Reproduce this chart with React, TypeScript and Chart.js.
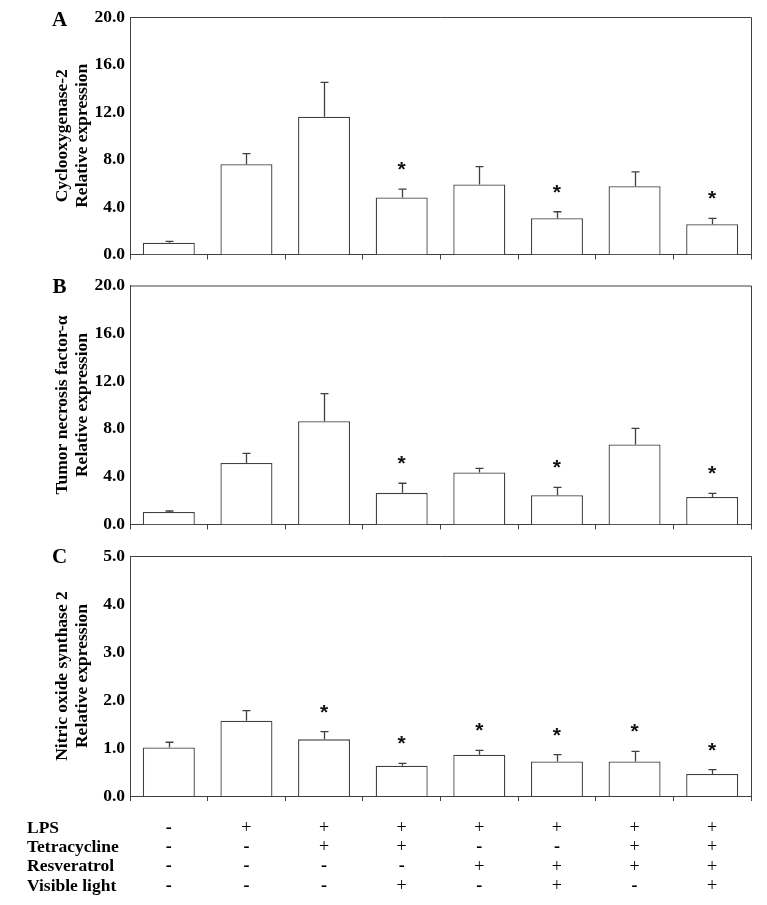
import React, { useEffect, useRef } from 'react';
import { Chart, registerables } from 'chart.js';

Chart.register(...registerables);

// ---------------- data ----------------
const groups = ['G1', 'G2', 'G3', 'G4', 'G5', 'G6', 'G7', 'G8'];

const coxValues = [1.0, 7.6, 11.6, 4.8, 5.9, 3.05, 5.75, 2.55];
const coxErrors = [0.1, 0.9, 2.9, 0.7, 1.5, 0.55, 1.2, 0.5];
const coxStars = [false, false, false, true, false, true, false, true];

const tnfValues = [1.05, 5.15, 8.65, 2.65, 4.35, 2.45, 6.7, 2.3];
const tnfErrors = [0.08, 0.8, 2.3, 0.8, 0.35, 0.65, 1.35, 0.3];
const tnfStars = [false, false, false, true, false, true, false, true];

const nosValues = [1.01, 1.57, 1.18, 0.63, 0.86, 0.72, 0.72, 0.46];
const nosErrors = [0.11, 0.21, 0.16, 0.05, 0.09, 0.14, 0.21, 0.09];
const nosStars = [false, false, true, true, true, true, true, true];

const coxTitle = ['Cyclooxygenase-2', 'Relative expression'];
const tnfTitle = ['Tumor necrosis factor-α', 'Relative expression'];
const nosTitle = ['Nitric oxide synthase 2', 'Relative expression'];

const treatmentLabels = ['LPS', 'Tetracycline', 'Resveratrol', 'Visible light'];
const lpsSigns = ['-', '+', '+', '+', '+', '+', '+', '+'];
const tetracyclineSigns = ['-', '-', '+', '+', '-', '-', '+', '+'];
const resveratrolSigns = ['-', '-', '-', '-', '+', '+', '+', '+'];
const lightSigns = ['-', '-', '-', '+', '-', '+', '-', '+'];
const treatmentSigns = [lpsSigns, tetracyclineSigns, resveratrolSigns, lightSigns];

// ---------------- styles ----------------
const SERIF = '"Liberation Serif", "Times New Roman", serif';
const LINE = '#404040';

type PanelProps = {
  top: number;
  height: number;
  padTop: number;
  padBottom: number;
  letter: string;
  letterY: number;
  values: number[];
  errors: number[];
  stars: boolean[];
  yMax: number;
  yStep: number;
  title: string[];
  table?: boolean;
};

function Panel(p: PanelProps) {
  const ref = useRef<HTMLCanvasElement | null>(null);

  useEffect(() => {
    if (!ref.current) return;

    const decor = {
      id: 'decor',
      afterDatasetsDraw(chart: any) {
        const { ctx, chartArea } = chart;
        const ys = chart.scales.y;
        const xs = chart.scales.x;
        const meta = chart.getDatasetMeta(0);
        ctx.save();
        // frame (top & right)
        ctx.strokeStyle = LINE;
        ctx.lineWidth = 1;
        ctx.beginPath();
        ctx.moveTo(chartArea.left, chartArea.top + 0.5);
        ctx.lineTo(chartArea.right + 0.5, chartArea.top + 0.5);
        ctx.lineTo(chartArea.right + 0.5, chartArea.bottom);
        ctx.stroke();

        // error bars
        ctx.strokeStyle = LINE;
        ctx.lineWidth = 1.3;
        meta.data.forEach((bar: any, i: number) => {
          const x = Math.round(bar.x) + 0.5;
          const y0 = ys.getPixelForValue(p.values[i]);
          const y1 = ys.getPixelForValue(p.values[i] + p.errors[i]);
          ctx.beginPath();
          ctx.moveTo(x, y0);
          ctx.lineTo(x, y1);
          ctx.moveTo(x - 4, y1);
          ctx.lineTo(x + 4, y1);
          ctx.stroke();
          if (p.stars[i]) {
            ctx.fillStyle = '#111';
            ctx.font = 'bold 21px "Liberation Sans", Arial, sans-serif';
            ctx.textAlign = 'center';
            ctx.textBaseline = 'alphabetic';
            const m = ctx.measureText('*');
            const cy = y1 - 23;
            ctx.fillText('*', bar.x, cy + (m.actualBoundingBoxAscent - m.actualBoundingBoxDescent) / 2);
          }
        });

        // panel letter
        ctx.fillStyle = '#000';
        ctx.font = `bold 21px ${SERIF}`;
        ctx.textAlign = 'center';
        ctx.textBaseline = 'middle';
        ctx.fillText(p.letter, 59.5, p.letterY);

        // treatment table
        if (p.table) {
          treatmentLabels.forEach((lab, r) => {
            const y = chartArea.bottom + 32 + r * 19.4;
            ctx.font = `bold 17.5px ${SERIF}`;
            ctx.textAlign = 'left';
            ctx.textBaseline = 'middle';
            ctx.fillStyle = '#000';
            ctx.fillText(lab, 27, y);
            ctx.textAlign = 'center';
            treatmentSigns[r].forEach((s, c) => {
              ctx.font = s === '-' ? `bold 18px ${SERIF}` : `18px ${SERIF}`;
              ctx.fillText(s, xs.getPixelForValue(c), y);
            });
          });
        }
        ctx.restore();
      },
    };

    const chart = new Chart(ref.current, {
      type: 'bar',
      data: {
        labels: groups,
        datasets: [
          {
            data: p.values,
            backgroundColor: '#ffffff',
            borderColor: LINE,
            borderWidth: 1.3,
            categoryPercentage: 1,
            barPercentage: 0.67,
          },
        ],
      },
      options: {
        animation: false,
        responsive: true,
        maintainAspectRatio: false,
        layout: { padding: { left: 0, right: 16, top: p.padTop, bottom: p.padBottom } },
        plugins: { legend: { display: false }, tooltip: { enabled: false }, title: { display: false } },
        scales: {
          x: {
            type: 'category',
            offset: true,
            grid: {
              display: true,
              drawOnChartArea: false,
              drawTicks: true,
              tickLength: 5,
              offset: true,
              color: LINE,
              lineWidth: 1,
            },
            border: { display: true, color: LINE, width: 1 },
            ticks: { display: false },
            afterFit: (s: any) => {
              s.height = 5;
            },
          },
          y: {
            min: 0,
            max: p.yMax,
            grid: { display: false, drawTicks: false },
            border: { display: true, color: LINE, width: 1 },
            ticks: {
              stepSize: p.yStep,
              padding: 5,
              color: '#000',
              font: { family: SERIF, size: 17.5, weight: 'bold' },
              callback: (v: any) => Number(v).toFixed(1),
            },
            title: {
              display: true,
              text: p.title,
              color: '#000',
              font: { family: SERIF, size: 17.5, weight: 'bold', lineHeight: '20px' },
              padding: { top: 52, bottom: 0 },
            },
            afterFit: (s: any) => {
              s.width = 130;
            },
          },
        },
      } as any,
      plugins: [decor],
    });
    return () => chart.destroy();
  }, []);

  return (
    <div style={{ position: 'absolute', left: 0, top: p.top, width: 767, height: p.height }}>
      <canvas ref={ref} />
    </div>
  );
}

export default function App() {
  return (
    <div style={{ position: 'absolute', left: 0, top: 0, width: 767, height: 905, background: '#fff' }}>
      <Panel
        top={0}
        height={270}
        padTop={17}
        padBottom={7}
        letter="A"
        letterY={21}
        values={coxValues}
        errors={coxErrors}
        stars={coxStars}
        yMax={20}
        yStep={4}
        title={coxTitle}
      />
      <Panel
        top={270}
        height={270}
        padTop={15}
        padBottom={10}
        letter="B"
        letterY={18}
        values={tnfValues}
        errors={tnfErrors}
        stars={tnfStars}
        yMax={20}
        yStep={4}
        title={tnfTitle}
      />
      <Panel
        top={540}
        height={365}
        padTop={16}
        padBottom={104}
        letter="C"
        letterY={18}
        values={nosValues}
        errors={nosErrors}
        stars={nosStars}
        yMax={5}
        yStep={1}
        title={nosTitle}
        table
      />
    </div>
  );
}
